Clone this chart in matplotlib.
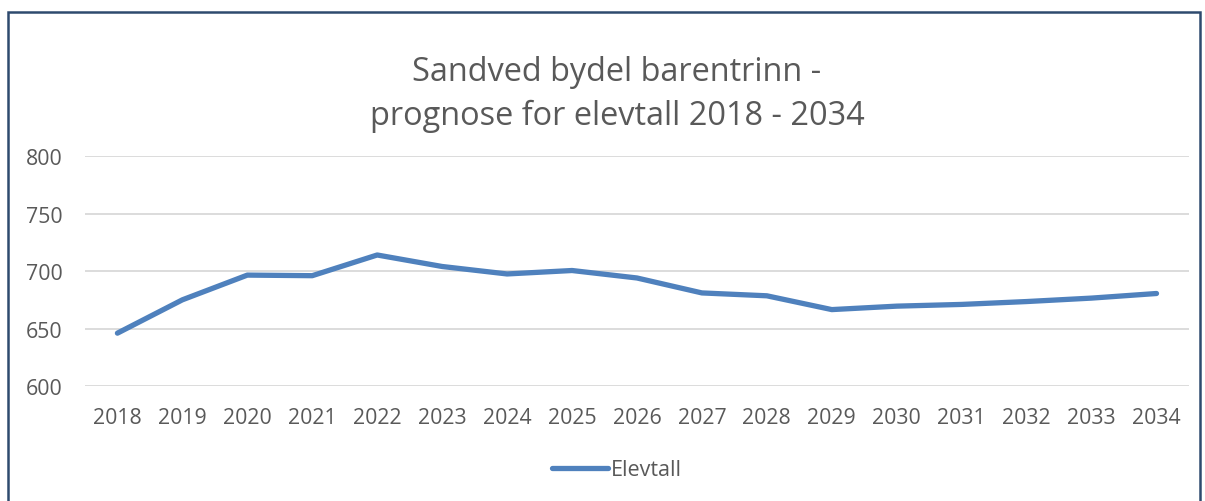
import matplotlib
matplotlib.use("Agg")
import matplotlib.pyplot as plt
from matplotlib.patches import Rectangle

years = [str(y) for y in range(2018, 2035)]
elevtall = [646, 675, 696.5, 696, 714, 704, 697.5, 700.5, 694, 681,
            678.5, 666.5, 669.5, 671, 673.5, 676.5, 680.5]
series_name = "Elevtall"
title = "Sandved bydel barentrinn -\nprognose for elevtall 2018 - 2034"

plt.rcParams["font.family"] = ["Open Sans", "DejaVu Sans"]
TXT = "#595959"

fig = plt.figure(figsize=(12.05, 5.02), dpi=100)
ax = fig.add_axes([0.0705, 0.229, 0.9162, 0.458])

x = list(range(len(years)))
ax.plot(x, elevtall, color="#4F81BD", lw=3.8, solid_capstyle="round",
        solid_joinstyle="round", label=series_name, zorder=3)

ax.set_xlim(-0.5, len(years) - 0.5)
ax.set_ylim(600, 800)
ax.set_yticks([600, 650, 700, 750, 800])
ax.set_xticks(x)
ax.set_xticklabels(years)
ax.grid(axis="y", color="#D9D9D9", lw=1.3)
ax.set_axisbelow(True)
for s in ax.spines.values():
    s.set_visible(False)
ax.tick_params(axis="both", length=0, labelsize=15.3, labelcolor=TXT)
ax.tick_params(axis="y", pad=16)
ax.tick_params(axis="x", pad=15)

fig.text(0.512, 0.812, title, ha="center", va="center", fontsize=23.4,
         color=TXT, linespacing=1.42)

leg = fig.legend(loc="center", bbox_to_anchor=(0.512, 0.062), frameon=False,
                 fontsize=15.5, handlelength=2.6, handletextpad=0.1)
for t in leg.get_texts():
    t.set_color(TXT)

# chart border
fig.patches.append(Rectangle((0.0066, -0.1), 0.9893, 1.074,
                             transform=fig.transFigure, fill=False,
                             edgecolor="#2E4A6E", lw=1.8, figure=fig))

fig.savefig("out.png", dpi=100)
